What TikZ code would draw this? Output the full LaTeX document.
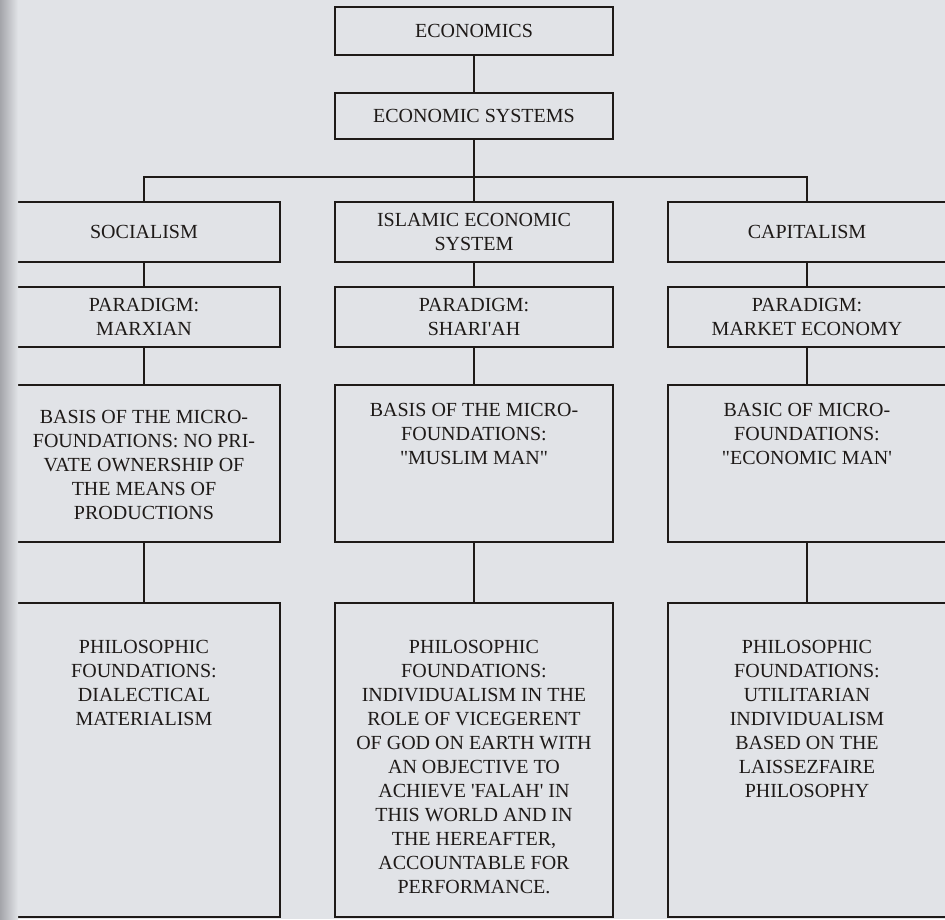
\documentclass[tikz,border=0pt]{standalone}
\usepackage{fontspec}
\setmainfont{Liberation Serif}
\usepackage{tikz}

\definecolor{pagecol}{HTML}{E1E3E7}
\definecolor{shadecol}{HTML}{A4A5AA}
\definecolor{inkcol}{HTML}{1E1A18}

\tikzset{
	box/.style={draw=inkcol, line width=1.9pt, inner sep=0pt, align=center,
		text=inkcol, font=\fontsize{20}{24}\selectfont},
	boxtext/.style={inner sep=0pt, align=center, anchor=north,
		text=inkcol, font=\fontsize{20}{24}\selectfont},
	link/.style={draw=inkcol, line width=1.9pt}
}

\begin{document}
\begin{tikzpicture}[x=1pt, y=-1pt]
		% Page and its shadow on the left
		\useasboundingbox (0,0) rectangle (945,919);
		\fill[pagecol] (0,0) rectangle (945,919);

		% Top of the tree
		\node[box, minimum width=278, minimum height=48] (econ) at (474,31) {ECONOMICS};
		\node[box, minimum width=278, minimum height=46] (esys) at (474,116) {ECONOMIC SYSTEMS};

		% Systems
		\node[box, minimum width=272, minimum height=60] (socl) at (144,232) {SOCIALISM};
		\node[box, minimum width=278, minimum height=60] (islam) at (474,232) {ISLAMIC ECONOMIC\\SYSTEM};
		\node[box, minimum width=278, minimum height=60] (capit) at (807,232) {CAPITALISM};

		% Paradigms
		\node[box, minimum width=272, minimum height=60] (parmarx) at (144,317) {PARADIGM:\\MARXIAN};
		\node[box, minimum width=278, minimum height=60] (parshar) at (474,317) {PARADIGM:\\SHARI\textquotesingle AH};
		\node[box, minimum width=278, minimum height=60] (parmkt) at (807,317) {PARADIGM:\\MARKET ECONOMY};

		% Micro-foundations
		\node[box, minimum width=272, minimum height=157] (basissoc) at (144,463.5) {};
		\node[box, minimum width=278, minimum height=157] (basisisl) at (474,463.5) {};
		\node[box, minimum width=278, minimum height=157] (basiscap) at (807,463.5) {};
		\node[boxtext] (basissoctxt) at (144,410) {BASIS OF THE MICRO-\\FOUNDATIONS: NO PRI-\\VATE OWNERSHIP OF\\THE MEANS OF\\PRODUCTIONS};
		\node[boxtext] (basisisltxt) at (474,403) {BASIS OF THE MICRO-\\FOUNDATIONS:\\\textquotedbl MUSLIM MAN\textquotedbl};
		\node[boxtext] (basiscaptxt) at (807,403) {BASIC OF MICRO-\\FOUNDATIONS:\\\textquotedbl ECONOMIC MAN\textquotesingle};

		% Philosophic foundations
		\node[box, minimum width=272, minimum height=314] (philsoc) at (144,760) {};
		\node[box, minimum width=278, minimum height=314] (philisl) at (474,760) {};
		\node[box, minimum width=278, minimum height=314] (philcap) at (807,760) {};
		\node[boxtext] (philsoctxt) at (144,640) {PHILOSOPHIC\\FOUNDATIONS:\\DIALECTICAL\\MATERIALISM};
		\node[boxtext] (philisltxt) at (474,640) {PHILOSOPHIC\\FOUNDATIONS:\\INDIVIDUALISM IN THE\\ROLE OF VICEGERENT\\OF GOD ON EARTH WITH\\AN OBJECTIVE TO\\ACHIEVE \textquotesingle FALAH\textquotesingle\ IN\\THIS WORLD AND IN\\THE HEREAFTER,\\ACCOUNTABLE FOR\\PERFORMANCE.};
		\node[boxtext] (philcaptxt) at (807,640) {PHILOSOPHIC\\FOUNDATIONS:\\UTILITARIAN\\INDIVIDUALISM\\BASED ON THE\\LAISSEZFAIRE\\PHILOSOPHY};

		% Connectors
		\coordinate (split) at (474,177);
		\draw[link] (econ.south) -- (esys.north);
		\draw[link] (esys.south) -- (islam.north);
		\draw[link] (socl.north) |- (split) -| (capit.north);
		\draw[link] (socl.south) -- (parmarx.north);
		\draw[link] (islam.south) -- (parshar.north);
		\draw[link] (capit.south) -- (parmkt.north);
		\draw[link] (parmarx.south) -- (basissoc.north);
		\draw[link] (parshar.south) -- (basisisl.north);
		\draw[link] (parmkt.south) -- (basiscap.north);
		\draw[link] (basissoc.south) -- (philsoc.north);
		\draw[link] (basisisl.south) -- (philisl.north);
		\draw[link] (basiscap.south) -- (philcap.north);

		% shadow of the page fold
		\shade[left color=shadecol, right color=pagecol] (0,0) rectangle (18,919);
	\end{tikzpicture}
\end{document}
